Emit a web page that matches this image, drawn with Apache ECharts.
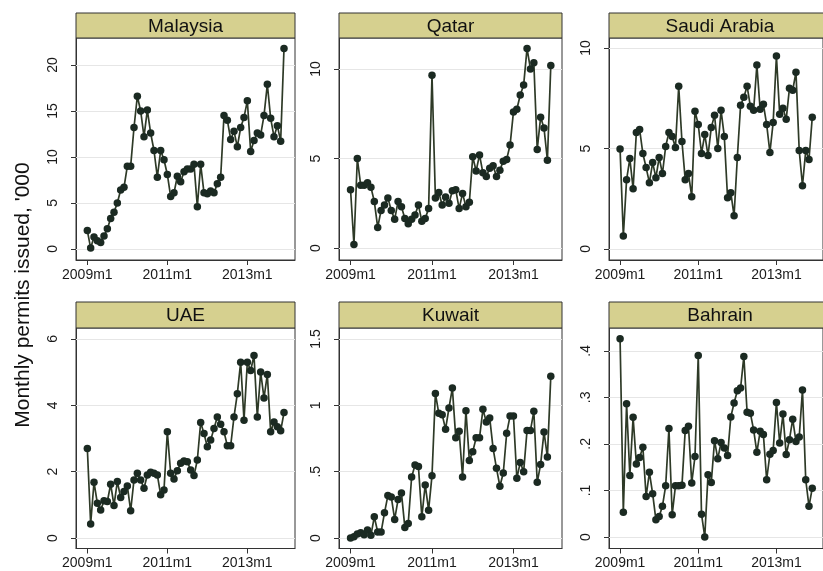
<!DOCTYPE html>
<html><head><meta charset="utf-8">
<script src="https://cdn.jsdelivr.net/npm/echarts@6/dist/echarts.min.js"></script>
<style>html,body{margin:0;padding:0;background:#fff}#c{width:823px;height:571px}</style>
</head><body><div id="c"></div>
<script>
// ---- data ----
const countries = ['Malaysia', 'Qatar', 'Saudi Arabia', 'UAE', 'Kuwait', 'Bahrain'];
const xTickValues = [0, 24, 48];               // months since 2009m1
const xTickLabels = ['2009m1', '2011m1', '2013m1'];
const yTitle = "Monthly permits issued, '000";

const malaysia = [2.0,0.1,1.3,0.9,0.7,1.4,2.2,3.3,4.0,5.0,6.4,6.7,9.0,9.0,13.2,16.6,15.0,12.2,15.1,12.6,10.7,7.8,10.7,9.7,8.1,5.7,6.1,7.9,7.3,8.4,8.7,8.7,9.2,4.6,9.2,6.1,6.0,6.3,6.1,7.1,7.8,14.5,14.0,11.9,12.8,11.1,13.2,14.3,16.1,10.6,11.8,12.6,12.4,14.5,17.9,14.2,12.2,13.4,11.7,21.8];
const qatar = [3.25,0.2,5.0,3.5,3.5,3.65,3.4,2.6,1.15,2.1,2.4,2.8,2.1,1.6,2.6,2.3,1.65,1.35,1.6,1.85,2.4,1.5,1.65,2.2,9.65,2.8,3.1,2.4,2.85,2.5,3.2,3.25,2.2,3.05,2.3,2.55,5.1,4.3,5.2,4.2,4.0,4.45,4.6,4.0,4.35,4.85,4.95,5.75,7.6,7.75,8.55,9.1,11.15,10.0,10.35,5.5,7.3,6.7,4.9,10.2];
const saudiArabia = [4.97,0.65,3.45,4.5,3.0,5.8,5.95,4.75,4.05,3.3,4.3,3.55,4.55,3.75,5.1,5.8,5.6,5.05,8.1,5.35,3.45,3.75,2.6,6.85,6.2,4.75,5.7,4.65,6.05,6.65,5.0,6.9,5.6,2.55,2.8,1.65,4.55,7.15,7.55,8.1,7.1,6.9,9.15,6.95,7.2,6.2,4.8,6.3,9.6,6.7,7.0,6.45,8.0,7.9,8.8,4.9,3.15,4.9,4.45,6.55];
const uae = [2.7,0.42,1.68,1.05,0.84,1.12,1.1,1.62,0.98,1.7,1.22,1.4,1.57,0.82,1.75,1.95,1.75,1.5,1.9,1.98,1.95,1.9,1.3,1.45,3.2,1.95,1.78,2.03,2.25,2.32,2.3,2.05,1.88,2.35,3.48,3.15,2.75,2.95,3.3,3.65,3.43,3.2,2.78,2.78,3.65,4.35,5.3,3.55,5.3,5.05,5.5,3.65,5.0,4.22,4.93,3.2,3.5,3.35,3.23,3.78];
const kuwait = [0.0,0.01,0.03,0.04,0.025,0.06,0.02,0.16,0.045,0.045,0.19,0.32,0.31,0.14,0.29,0.34,0.08,0.11,0.46,0.55,0.54,0.16,0.40,0.21,0.47,1.09,0.94,0.93,0.82,0.98,1.13,0.755,0.805,0.46,0.96,0.585,0.65,0.755,0.755,0.97,0.875,0.905,0.675,0.525,0.39,0.49,0.79,0.92,0.92,0.45,0.57,0.50,0.81,0.81,0.955,0.42,0.555,0.80,0.61,1.22];
const bahrain = [0.426,0.053,0.286,0.132,0.257,0.157,0.171,0.193,0.087,0.139,0.093,0.037,0.044,0.066,0.11,0.233,0.048,0.11,0.11,0.111,0.229,0.238,0.116,0.173,0.39,0.049,0.0,0.134,0.117,0.207,0.168,0.203,0.191,0.175,0.258,0.288,0.314,0.32,0.388,0.268,0.266,0.23,0.182,0.227,0.22,0.123,0.178,0.186,0.289,0.202,0.264,0.177,0.209,0.253,0.205,0.215,0.316,0.123,0.066,0.105];

const yTickValues = [[0,5,10,15,20],[0,5,10],[0,5,10],[0,2,4,6],[0,0.5,1,1.5],[0,0.1,0.2,0.3,0.4]];
const yTickLabels = [['0','5','10','15','20'],['0','5','10'],['0','5','10'],['0','2','4','6'],['0','.5','1','1.5'],['0','.1','.2','.3','.4']];
const seriesValues = [malaysia, qatar, saudiArabia, uae, kuwait, bahrain];

// ---- layout / scales ----
const colLeft = [76, 339, 609];
const colWidth = [219, 223, 222];
const rowTop = [38, 328];
const rowHeight = [222, 220.5];
const headerH = [25, 26];
const xMin = -3.4, xMax = 62.3;
const yMin = [-1.2, -0.67, -0.55, -0.317, -0.079, -0.0247];
const yMax = [22.93, 11.73, 10.5, 6.33, 1.583, 0.449];

const FONT = '"Liberation Sans", Arial, sans-serif';
const INK = '#1a1a1a';
const grids = [], xAxes = [], yAxes = [], series = [], graphics = [];

countries.forEach((name, i) => {
  const r = Math.floor(i / 3), c = i % 3;
  grids.push({left: colLeft[c], top: rowTop[r], width: colWidth[c], height: rowHeight[r],
    show: true, borderColor: '#333', borderWidth: 1, backgroundColor: '#fff', containLabel: false});
  xAxes.push({type: 'value', gridIndex: i, min: xMin, max: xMax,
    axisLine: {show: true, onZero: false, lineStyle: {color: '#333', width: 1}},
    axisTick: {show: true, length: 5, customValues: xTickValues, lineStyle: {color: '#333'}},
    axisLabel: {show: true, customValues: xTickValues, margin: 8,
      formatter: v => xTickLabels[xTickValues.indexOf(v)] || '',
      fontFamily: FONT, fontSize: 14, color: INK},
    splitLine: {show: false}});
  const tv = yTickValues[i], tl = yTickLabels[i];
  yAxes.push({type: 'value', gridIndex: i, min: yMin[i], max: yMax[i],
    axisLine: {show: true, onZero: false, lineStyle: {color: '#333', width: 1}},
    axisTick: {show: true, length: 5, customValues: tv, lineStyle: {color: '#333'}},
    axisLabel: {show: true, customValues: tv, rotate: 90, margin: 16,
      align: 'center', verticalAlign: 'bottom',
      formatter: v => { const k = tv.findIndex(t => Math.abs(t - v) < 1e-9); return k >= 0 ? tl[k] : ''; },
      fontFamily: FONT, fontSize: 14, color: INK},
    splitLine: {show: false}});
  // faint horizontal grid lines at the y ticks
  series.push({type: 'line', xAxisIndex: i, yAxisIndex: i, data: [], silent: true, z: 1,
    markLine: {silent: true, z: 1, symbol: 'none', label: {show: false},
      lineStyle: {color: '#e6e6e6', width: 1, type: 'solid'},
      data: tv.map(v => ({yAxis: v}))}});
  series.push({type: 'line', name: name, xAxisIndex: i, yAxisIndex: i, z: 3,
    data: seriesValues[i].map((v, m) => [m, v]),
    symbol: 'circle', symbolSize: 7.5, showSymbol: true,
    lineStyle: {color: '#2e3a27', width: 1.7},
    itemStyle: {color: '#1b2a22', borderWidth: 0},
    animation: false});
  // panel header strip
  const hx = colLeft[c], hy = rowTop[r] - headerH[r];
  graphics.push({type: 'rect', z: 10, shape: {x: hx, y: hy, width: colWidth[c], height: headerH[r]},
    style: {fill: '#d6d08f', stroke: '#333', lineWidth: 1}});
  graphics.push({type: 'text', z: 11, x: hx + colWidth[c] / 2, y: hy + headerH[r] / 2 + 1,
    style: {text: name, fill: '#111', font: '19px ' + FONT, align: 'center', verticalAlign: 'middle'}});
});

graphics.push({type: 'text', z: 11, x: 23, y: 295, rotation: Math.PI / 2,
  style: {text: yTitle, fill: '#111', font: '21px ' + FONT, align: 'center', verticalAlign: 'middle'}});

const chart = echarts.init(document.getElementById('c'), null, {renderer: 'canvas'});
chart.setOption({animation: false, backgroundColor: '#fff',
  grid: grids, xAxis: xAxes, yAxis: yAxes, series: series, graphic: graphics});
</script></body></html>
